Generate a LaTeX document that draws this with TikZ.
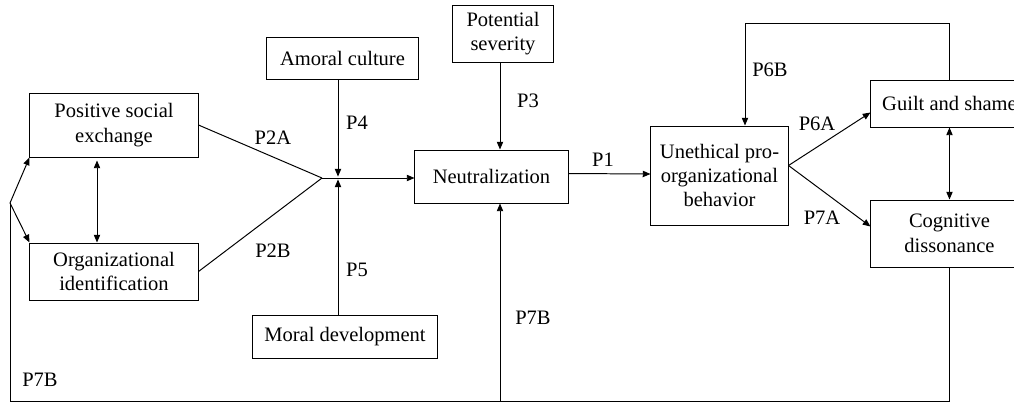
\documentclass[tikz,border=0pt]{standalone}
\usepackage{fontspec}
\setmainfont{Liberation Serif}
\usetikzlibrary{arrows.meta,calc}

\begin{document}
\begin{tikzpicture}[x=0.025cm,y=-0.025cm,line width=0.7pt,>={Triangle[length=5.5pt,width=4.5pt]},box/.style={draw,align=center,inner sep=0pt,font=\fontsize{14.6}{17.4}\selectfont},lbl/.style={font=\fontsize{14.6}{17.4}\selectfont}]
				
				\useasboundingbox (0,0) rectangle (1014,403);
				
				\node[box,minimum width=4.2cm,minimum height=1.6cm] (pse) at (114,125) {Positive social\\exchange};
				\node[box,minimum width=4.2cm,minimum height=1.425cm] (oid) at (114,271.5) {Organizational\\identification};
				\node[box,minimum width=3.775cm,minimum height=1.05cm] (amoral) at (342.5,58) {Amoral culture};
				\node[box,minimum width=4.6cm,minimum height=1.075cm] (moral) at (345,336.5) {Moral development};
				\node[box,minimum width=2.5cm,minimum height=1.425cm] (sev) at (503,33.5) {Potential\\severity};
				\node[box,minimum width=3.825cm,minimum height=1.325cm] (neu) at (491.5,176.5) {Neutralization};
				\node[box,minimum width=3.425cm,minimum height=2.475cm] (upb) at (719.5,175.5) {Unethical pro-\\organizational\\behavior};
				\node[box,minimum width=3.925cm,minimum height=1.175cm] (gs) at (949.5,103.5) {Guilt and shame};
				\node[box,minimum width=3.925cm,minimum height=1.675cm] (cd) at (949.5,233.5) {Cognitive\\dissonance};
				
				\coordinate (j) at (322,178);
				\coordinate (m) at (338,178);
				\coordinate (b) at (10,203);
				\coordinate (bl) at (10,401);
				\coordinate (p7) at (500,401);
				\coordinate (top) at (745,23);
				
				\path (pse.east) edge (j);
				\path (oid.east) edge (j);
				\path[->] (j) edge (j -| neu.west);
				\path[->] (amoral.south -| m) edge ([yshift=1pt]m);
				\path[->] (moral.north -| m) edge ([yshift=-1pt]m);
				\path[<->] ($(pse.south)+(-17,3)$) edge ($(oid.north)+(-17,0)$);
				\path[->] (sev.south -| p7) edge (neu.north -| p7);
				\path[->] ($(neu.east)+(0,-3)$) edge ($(upb.west)+(0,-1.5)$);
				\path[->] ($(upb.east)+(0,-10)$) edge ($(gs.west)+(0,9)$);
				\path[->] ($(upb.east)+(0,-10)$) edge ($(cd.west)+(0,-7)$);
				\path[<->] (gs.south) edge (cd.north);
				\draw[->] (gs.north) |- (top) -- (top |- upb.north);
				\draw (cd.south) |- (bl) -- (b);
				\path[->] (p7) edge (neu.south -| p7);
				\path[->] (b) edge (pse.south west);
				\path[->] (b) edge (oid.north west);
				
				\node[lbl] (l2a) at (273,138) {P2A};
				\node[lbl] (l2b) at (273,251) {P2B};
				\node[lbl] (l4) at (357,123) {P4};
				\node[lbl] (l5) at (357,270) {P5};
				\node[lbl] (l3) at (528,101) {P3};
				\node[lbl] (l1) at (603,160) {P1};
				\node[lbl] (l7bm) at (533,318) {P7B};
				\node[lbl] (l6b) at (770,70) {P6B};
				\node[lbl] (l6a) at (817,124) {P6A};
				\node[lbl] (l7a) at (822,218) {P7A};
				\node[lbl] (l7bl) at (40,380) {P7B};
				
				\end{tikzpicture}
\end{document}
